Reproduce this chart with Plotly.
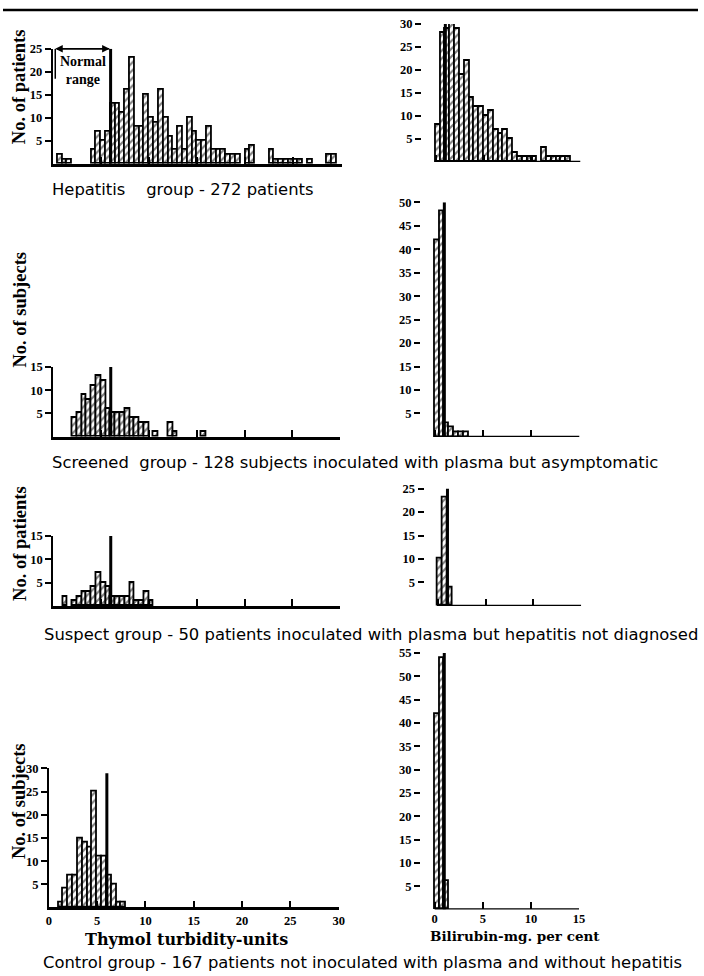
import plotly.graph_objects as go

W, H = 704, 976

# ---------------- data (counts per bin) ----------------
thymol_bin_width = 0.5      # thymol turbidity units, bins start at 0
bili_bin_width = 0.5        # bilirubin mg per cent, bins start at 0

thymol_hepatitis = [0, 2, 1, 1, 0, 0, 0, 0, 3, 7, 5, 7, 13, 13, 11, 16, 23, 8, 8, 15,
                    10, 9, 16, 10, 6, 3, 8, 3, 10, 7, 5, 5, 8, 3, 3, 3, 2, 2, 2, 0,
                    3, 4, 0, 0, 0, 3, 1, 1, 1, 1, 1, 1, 0, 1, 0, 0, 0, 2, 2, 0]
thymol_screened = [0, 0, 0, 0, 4, 5, 9, 8, 11, 13, 12, 6, 5, 5, 5, 6, 4, 4, 3, 3,
                   0, 1, 0, 0, 3, 1, 0, 0, 0, 0, 0, 1]
thymol_suspect = [0, 0, 2, 0, 1, 2, 3, 3, 4, 7, 5, 4, 2, 2, 2, 2, 5, 1, 1, 3, 1]
thymol_control = [0, 0, 1, 4, 7, 7, 15, 14, 13, 25, 11, 11, 7, 5, 1, 1]

bili_hepatitis = [8, 28, 29, 30, 29, 19, 22, 14, 12, 12, 10, 11, 7, 6, 7, 5, 2, 1, 1, 1,
                  1, 0, 3, 1, 1, 1, 1, 1, 0, 0]
bili_screened = [42, 48, 3, 2, 1, 1, 1]
bili_suspect = [10, 23, 4]
bili_control = [42, 54, 6]

thymol_normal_limit = 6.0
bili_normal_limit = 1.0
normal_line_heights = {"TL": 25, "SL": 15, "PL": 15, "CL": 29,
                       "TR": 30, "SR": 50, "PR": 25, "CR": 55}

y_ticks_left = {"TL": [5, 10, 15, 20, 25], "SL": [5, 10, 15], "PL": [5, 10, 15],
                "CL": [5, 10, 15, 20, 25, 30]}
y_ticks_right = {"TR": [5, 10, 15, 20, 25, 30], "SR": list(range(5, 51, 5)),
                 "PR": [5, 10, 15, 20, 25], "CR": list(range(5, 56, 5))}
thymol_x_ticks = [0, 5, 10, 15, 20, 25, 30]
bili_x_ticks = [0, 5, 10, 15]

captions = [
    "Hepatitis\u00a0\u00a0\u00a0 group -\u00a0272 patients",
    "Screened\u00a0 group - 128 subjects inoculated with plasma but asymptomatic",
    "Suspect group - 50 patients inoculated with plasma but hepatitis not diagnosed",
    "Control group - 167 patients not inoculated with plasma and without hepatitis",
]
y_titles = ["No. of patients", "No. of subjects", "No. of patients", "No. of subjects"]

# ---------------- layout geometry (pixels) ----------------
# name: (x-left px, x-right px, x range, y-base px, y-top px, y range)
panels = {
    "TL": (50.5, 343, [0, 30], 158, 42, [0, 25]),
    "SL": (51, 341.7, [0, 30], 432.7, 362.5, [0, 15]),
    "PL": (51, 341.7, [0, 30], 603.3, 532.7, [0, 15]),
    "CL": (46.5, 340, [0, 30], 907, 767, [0, 30]),
    "TR": (424.3, 585, [-1.43, 15], 156, 17, [0, 30]),
    "SR": (423.3, 584, [-1.43, 15], 433, 196.7, [0, 50]),
    "PR": (427, 585.7, [-1.4, 15], 603.3, 485, [0, 25]),
    "CR": (423.3, 583.5, [-1.43, 15], 909, 650.7, [0, 55]),
}
series = {"TL": thymol_hepatitis, "SL": thymol_screened, "PL": thymol_suspect,
          "CL": thymol_control, "TR": bili_hepatitis, "SR": bili_screened,
          "PR": bili_suspect, "CR": bili_control}


def px(x):
    return x / W


def py(y):
    return 1 - y / H


TICKFONT = dict(family="Liberation Serif", size=12.5, color="black", weight="bold")

fig = go.Figure()
layout = dict(width=W, height=H, margin=dict(l=0, r=0, t=0, b=0), autosize=False,
              paper_bgcolor="white", plot_bgcolor="white", showlegend=False,
              bargap=0, shapes=[], annotations=[])

for i, (name, (xl, xr, xrng, yb, yt, yrng)) in enumerate(panels.items()):
    idx = i + 1
    xa = "xaxis" if idx == 1 else f"xaxis{idx}"
    ya = "yaxis" if idx == 1 else f"yaxis{idx}"
    xref = "x" if idx == 1 else f"x{idx}"
    yref = "y" if idx == 1 else f"y{idx}"
    left = name.endswith("L")
    bw = thymol_bin_width if left else bili_bin_width
    counts = series[name]
    xs = [bw * k + bw / 2 for k, c in enumerate(counts) if c > 0]
    ys = [c for c in counts if c > 0]
    fig.add_trace(go.Bar(
        x=xs, y=ys, width=bw, xaxis=xref, yaxis=yref,
        marker=dict(color="white", line=dict(color="black", width=1.8),
                    pattern=dict(shape="/", fgcolor="black", bgcolor="white",
                                 size=5.5, solidity=0.4)),
        hoverinfo="skip"))
    bottom = name.startswith("C")
    xt = thymol_x_ticks if left else bili_x_ticks
    layout[xa] = dict(domain=[px(xl), px(xr)], range=xrng, anchor=yref,
                      showgrid=False, zeroline=False, showline=left,
                      linecolor="black", linewidth=2.5,
                      ticks="inside", ticklen=7, tickwidth=2, tickcolor="black",
                      tickvals=xt, showticklabels=bottom, tickfont=TICKFONT)
    yt_vals = y_ticks_left[name] if left else y_ticks_right[name]
    layout[ya] = dict(domain=[py(yb), py(yt)], range=yrng, anchor=xref,
                      showgrid=False, zeroline=False, showline=left,
                      linecolor="black", linewidth=2,
                      ticks="outside", ticklen=6, tickwidth=2, tickcolor="black",
                      tickvals=yt_vals, tickfont=TICKFONT)
    if not left:
        # baseline of bilirubin panels starts at 0
        layout["shapes"].append(dict(type="line", xref=xref, yref=yref,
                                     x0=0, x1=15, y0=0, y1=0,
                                     line=dict(color="black", width=2.5)))
    lim = thymol_normal_limit if left else bili_normal_limit
    layout["shapes"].append(dict(type="line", xref=xref, yref=yref,
                                 x0=lim, x1=lim, y0=0, y1=normal_line_heights[name],
                                 line=dict(color="black", width=3)))

# Normal range marker (top-left)
layout["annotations"] += [
    dict(x=0.25, y=25, ax=thymol_normal_limit, ay=25, xref="x", yref="y", axref="x", ayref="y",
         text="", showarrow=True, arrowhead=2, arrowsize=1, arrowwidth=1.5, arrowcolor="black"),
    dict(x=thymol_normal_limit - 0.1, y=25, ax=0.25, ay=25, xref="x", yref="y", axref="x", ayref="y",
         text="", showarrow=True, arrowhead=2, arrowsize=1, arrowwidth=1.5, arrowcolor="black"),
    dict(x=3.1, y=20.3, xref="x", yref="y", xanchor="center", yanchor="middle",
         text="Normal<br>range", showarrow=False,
         font=dict(family="Liberation Serif", size=14, color="black", weight="bold"),
         align="center"),
]
layout["shapes"].append(dict(type="line", xref="x", yref="y", x0=0.25, x1=0.25, y0=25, y1=18.5,
                             line=dict(color="black", width=1.5)))

# captions
cap_pos = [(48, 184), (48, 459), (40, 632), (38, 962)]
for (cx, cy), txt in zip(cap_pos, captions):
    layout["annotations"].append(dict(
        x=px(cx), y=py(cy), xref="paper", yref="paper", xanchor="left", yanchor="middle",
        text=txt, showarrow=False,
        font=dict(family="DejaVu Sans", size=16.4, color="black")))

# y titles
yt_pos = [(17, 80), (17, 305), (17, 540), (16, 800)]
for (tx, ty), txt in zip(yt_pos, y_titles):
    layout["annotations"].append(dict(
        x=px(tx), y=py(ty), xref="paper", yref="paper", xanchor="center", yanchor="middle",
        text=txt, showarrow=False, textangle=-90,
        font=dict(family="Liberation Serif", size=18.5, color="black", weight="bold")))

# x titles
layout["annotations"] += [
    dict(x=px(186), y=py(939), xref="paper", yref="paper", xanchor="center", yanchor="middle",
         text="Thymol turbidity-units",
         showarrow=False, font=dict(family="DejaVu Serif", size=16, color="black", weight="bold")),
    dict(x=px(519), y=py(936), xref="paper", yref="paper", xanchor="center", yanchor="middle",
         text="Bilirubin-mg. per cent",
         showarrow=False, font=dict(family="DejaVu Serif", size=13.5, color="black", weight="bold")),
]

# page border line at top of scan
layout["shapes"].append(dict(type="line", xref="paper", yref="paper", x0=0, x1=1,
                             y0=py(3), y1=py(3), line=dict(color="black", width=2.5)))

fig.update_layout(**layout)
fig.write_html("out.html")
